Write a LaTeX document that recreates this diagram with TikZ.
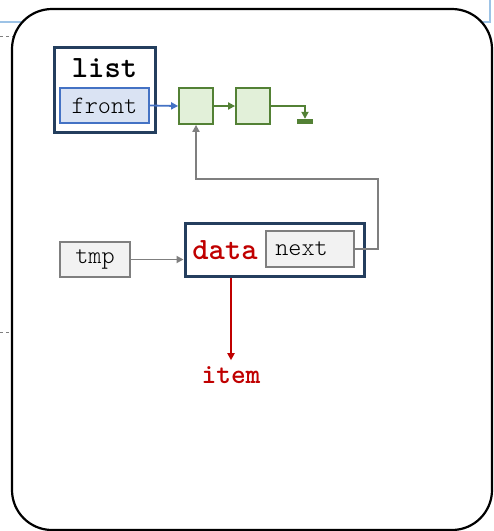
\documentclass[tikz,border=0pt]{standalone}
\usepackage{fontspec}
\newfontfamily\lightmono{Latin Modern Mono Light}
\usetikzlibrary{arrows.meta,calc}
\definecolor{navy}{RGB}{36,62,94}
\definecolor{ptrblue}{RGB}{68,114,196}
\definecolor{ptrbluefill}{RGB}{218,227,243}
\definecolor{nodegreen}{RGB}{83,129,53}
\definecolor{nodegreenfill}{RGB}{226,240,217}
\definecolor{boxgray}{RGB}{127,127,127}
\definecolor{boxgrayfill}{RGB}{242,242,242}
\definecolor{darkred}{RGB}{192,0,0}
\definecolor{paleblue}{RGB}{157,195,230}
\tikzset{
  codefont/.style={font=\lightmono\fontsize{25}{25}\selectfont},
  outerbox/.style={draw=navy, line width=3pt, fill=white, inner sep=0pt},
  ptrbox/.style={draw=ptrblue, line width=1.8pt, fill=ptrbluefill, inner sep=0pt,
    minimum width=89pt, minimum height=35pt, codefont},
  listnode/.style={draw=nodegreen, line width=1.8pt, fill=nodegreenfill, inner sep=0pt,
    minimum width=34pt, minimum height=36pt},
  graybox/.style={draw=boxgray, line width=1.8pt, fill=boxgrayfill, inner sep=0pt,
    minimum height=35pt, codefont},
  boldlabel/.style={inner sep=0pt, font=\ttfamily\bfseries\fontsize{31}{31}\selectfont},
  tip/.style={-{Triangle[length=7pt,width=7pt]}, line width=1.8pt},
}
\begin{document}
\begin{tikzpicture}[x=1pt,y=-1pt]
\useasboundingbox (0,0) rectangle (494,531);
% frame edges peeking out behind the panel
\draw[paleblue, line width=1.2pt] (0,22) -- (490,22) -- (490,0);
\draw[boxgray, dashed, line width=0.8pt] (0,36) -- (14,36);
\draw[boxgray, dashed, line width=0.8pt] (0,332) -- (14,332);
% panel
\draw[black, line width=2.2pt, fill=white, rounded corners=40pt] (12,9) rectangle (492,530);

% list object
\node[outerbox, minimum width=101pt, minimum height=85pt] (listbox) at (104.5,89.5) {};
\node[boldlabel] (listlbl) at (104.5,68) {list};
\node[ptrbox] (front) at (104.5,105.5) {front};

% linked nodes
\node[listnode] (n1) at (196,106) {};
\node[listnode] (n2) at (253,106) {};
\node[fill=nodegreen, inner sep=0pt, minimum width=16pt, minimum height=5pt] (ground) at (305,121.5) {};

% tmp and the new node
\node[graybox, minimum width=70pt] (tmp) at (95,259.5) {tmp};
\node[outerbox, minimum width=179pt, minimum height=53pt] (databox) at (274.5,249.5) {};
\node[boldlabel, text=darkred] (datalbl) at (225,250) {data};
\node[graybox, minimum width=88pt, minimum height=36pt] (next) at (310,249) {};
\node[inner sep=0pt, codefont] (nexttxt) at (301.5,248.5) {next};
\node[boldlabel, text=darkred, font=\ttfamily\bfseries\fontsize{28}{28}\selectfont] (item) at (231,375) {item};

% connectors
\draw[tip, ptrblue] (front.east) -- (n1.west);
\draw[tip, nodegreen] (n1.east) -- (n2.west);
\draw[tip, nodegreen] (n2.east) -| (ground.north);
\draw[tip, boxgray] (next.east) -- ++(23,0) |- ([yshift=-54pt]n1.south) -- (n1.south);
\draw[tip, boxgray] (tmp.east) -- (tmp.east -| databox.west);
\draw[tip, darkred] (item.north |- databox.south) -- ([yshift=6pt]item.north);
\end{tikzpicture}
\end{document}
